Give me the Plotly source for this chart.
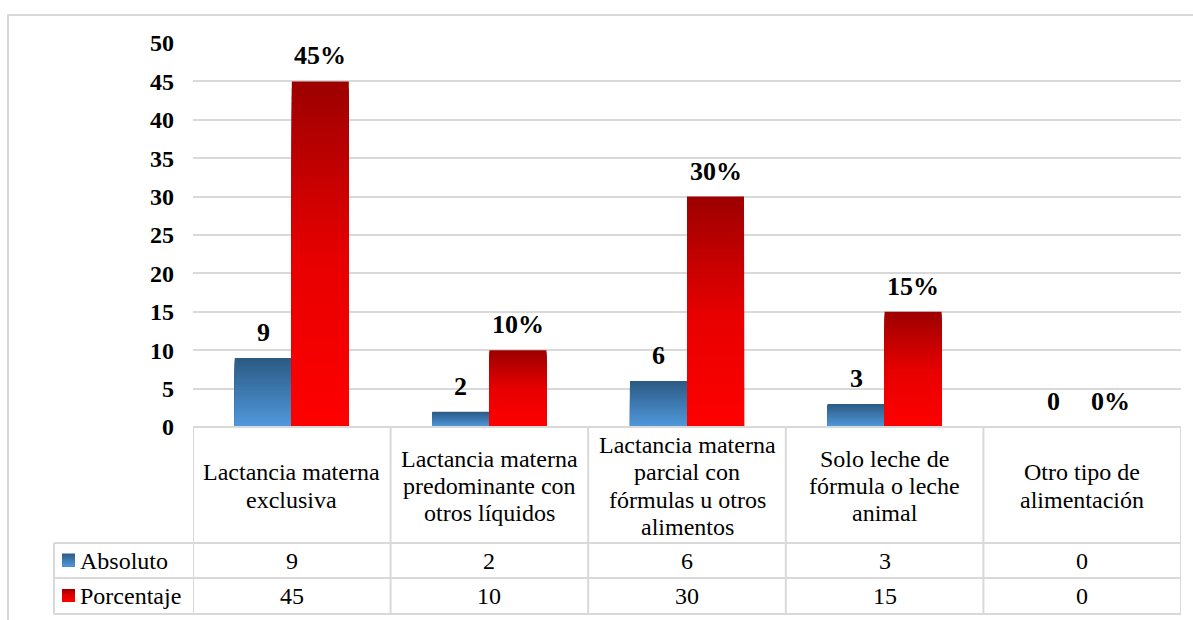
import plotly.graph_objects as go

# --- data ---
categorias = [
    "Lactancia materna<br>exclusiva",
    "Lactancia materna<br>predominante con<br>otros líquidos",
    "Lactancia materna<br>parcial con<br>fórmulas u otros<br>alimentos",
    "Solo leche de<br>fórmula o leche<br>animal",
    "Otro tipo de<br>alimentación",
]
absoluto = [9, 2, 6, 3, 0]
porcentaje = [45, 10, 30, 15, 0]
series_names = ["Absoluto", "Porcentaje"]
y_ticks = [0, 5, 10, 15, 20, 25, 30, 35, 40, 45, 50]

# --- figure geometry (pixels) ---
W, H = 1193, 620
L, R, T, B = 193, 12, 43, 193
PW, PH = W - L - R, H - T - B
FONT = "Liberation Serif"
GRID = "#d9d9d9"


def px_x(px):
    return (px - L) / PW


def px_y(py):
    return (H - B - py) / PH


def hex2rgb(h):
    h = h.lstrip("#")
    return tuple(int(h[i:i + 2], 16) for i in (0, 2, 4))


def blend(stops, t):
    """t = 0 at bar bottom, 1 at bar top; stops are (t, hex)."""
    for (t0, c0), (t1, c1) in zip(stops, stops[1:]):
        if t0 <= t <= t1:
            f = (t - t0) / (t1 - t0) if t1 > t0 else 0
            a, b = hex2rgb(c0), hex2rgb(c1)
            return "rgb(%d,%d,%d)" % tuple(round(a[i] + (b[i] - a[i]) * f) for i in range(3))
    return stops[-1][1]


blue_stops = [(0.0, "#5099dc"), (1.0, "#2c5a83")]
red_stops = [(0.0, "#ff0000"), (0.5, "#e60000"), (1.0, "#9c0000")]

BAR_W = 0.2885
N_SEG = 48

fig = go.Figure()

# gradient-filled bars: nested bars from the tallest (top colour) down to the
# shortest (bottom colour), so every band sits on a filled layer
for vals, stops, off in [(absoluto, blue_stops, -BAR_W), (porcentaje, red_stops, 0.0)]:
    for k in reversed(range(N_SEG)):
        t = (k + 0.5) / N_SEG
        fig.add_trace(go.Bar(
            x=categorias,
            y=[v * (k + 1) / N_SEG for v in vals],
            width=BAR_W,
            offset=off,
            marker=dict(color=blend(stops, t), line=dict(width=0)),
            showlegend=False,
            hoverinfo="skip",
        ))

# value labels above the bars
for cat, a, p in zip(categorias, absoluto, porcentaje):
    for val, txt, shift in [(a, f"{a}", -28.5), (p, f"{p}%", 28.5)]:
        fig.add_annotation(
            x=cat, y=val, xref="x", yref="y", text=f"<b>{txt}</b>",
            showarrow=False, xanchor="center", yanchor="bottom",
            xshift=shift, yshift=9,
            font=dict(family=FONT, size=26, color="black"),
        )

# --- data table under the plot ---
shapes = []
line = dict(color=GRID, width=2)
x_tab_left = px_x(54)
y_rows = [px_y(427), px_y(543), px_y(578), px_y(614)]

# horizontal rules
shapes.append(dict(type="line", xref="paper", yref="paper", x0=0, x1=1, y0=y_rows[0], y1=y_rows[0], line=line))
for yr in y_rows[1:]:
    shapes.append(dict(type="line", xref="paper", yref="paper", x0=x_tab_left, x1=1, y0=yr, y1=yr, line=line))
# vertical rules at category boundaries
for i in range(len(categorias) + 1):
    shapes.append(dict(type="line", xref="x", yref="paper", x0=i - 0.5, x1=i - 0.5,
                       y0=y_rows[0], y1=y_rows[3], line=line))
shapes.append(dict(type="line", xref="paper", yref="paper", x0=x_tab_left, x1=x_tab_left,
                   y0=y_rows[1], y1=y_rows[3], line=line))

# outer chart border
shapes.append(dict(type="rect", xref="paper", yref="paper",
                   x0=px_x(8), x1=px_x(1196), y0=px_y(15), y1=px_y(626),
                   line=line, fillcolor="rgba(0,0,0,0)", layer="below"))

# category headers, one annotation per line
LINE_H = 27.4
for cat in categorias:
    parts = cat.split("<br>")
    n = len(parts)
    for j, ln in enumerate(parts):
        cy = 486 + (j - (n - 1) / 2) * LINE_H
        fig.add_annotation(
            x=cat, y=px_y(cy), xref="x", yref="paper", text=ln,
            showarrow=False, xanchor="center", yanchor="middle",
            font=dict(family=FONT, size=24, color="black"),
        )

# value rows with legend keys
row_centers = [560.5, 596]
for name, vals, stops, cy in zip(series_names, [absoluto, porcentaje], [blue_stops, red_stops], row_centers):
    # legend key square with vertical gradient
    n_strip = 8
    top, bot = cy - 7, cy + 6
    for s in range(n_strip):
        y0 = bot
        y1 = bot - (bot - top) * (n_strip - s) / n_strip
        shapes.append(dict(type="rect", xref="paper", yref="paper",
                           x0=px_x(62), x1=px_x(75), y0=px_y(y0), y1=px_y(y1),
                           line=dict(width=0),
                           fillcolor=blend(stops, (n_strip - s - 0.5) / n_strip)))
    fig.add_annotation(
        x=px_x(78), y=px_y(cy), xref="paper", yref="paper", text=name,
        showarrow=False, xanchor="left", yanchor="middle",
        font=dict(family=FONT, size=24, color="black"),
    )
    for cat, v in zip(categorias, vals):
        fig.add_annotation(
            x=cat, y=px_y(cy), xref="x", yref="paper", text=str(v),
            showarrow=False, xanchor="center", yanchor="middle",
            font=dict(family=FONT, size=24, color="black"),
        )

fig.update_layout(
    width=W, height=H,
    margin=dict(l=L, r=R, t=T, b=B),
    paper_bgcolor="white", plot_bgcolor="white",
    barmode="overlay",
    showlegend=False,
    shapes=shapes,
    font=dict(family=FONT, color="black"),
    xaxis=dict(type="category", showticklabels=False, showgrid=False,
               zeroline=False, showline=False, ticks="", range=[-0.5, 4.5]),
    yaxis=dict(range=[0, 50], tickvals=y_ticks, ticktext=[f"<b>{v}</b>" for v in y_ticks],
               showgrid=True, gridcolor=GRID, gridwidth=2, zeroline=False,
               showline=False, ticks="", ticklabelstandoff=18,
               tickfont=dict(family=FONT, size=24, color="black")),
)

fig.write_html("out.html")
